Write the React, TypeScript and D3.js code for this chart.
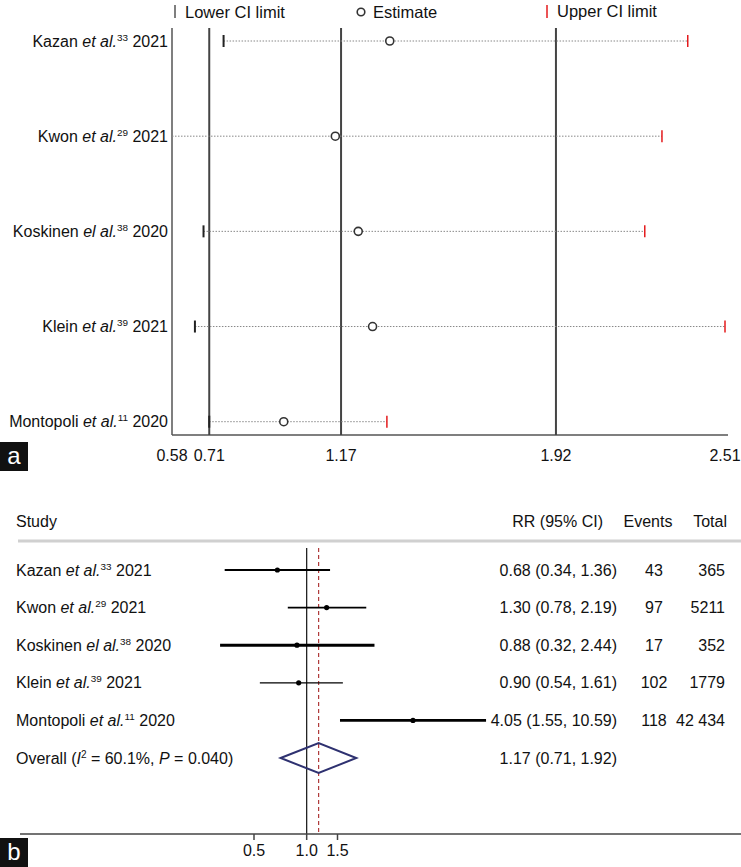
import React from "react";
import * as d3 from "d3";

// ---------- Data ----------
const studyNames = ["Kazan", "Kwon", "Koskinen", "Klein", "Montopoli"];
const etAl = ["et al.", "et al.", "el al.", "et al.", "et al."];
const refNums = ["33", "29", "38", "39", "11"];
const years = ["2021", "2021", "2020", "2021", "2020"];

// Panel a: leave-one-out sensitivity
const looEstimate = [1.34, 1.15, 1.23, 1.28, 0.97];
const looLower = [0.76, 0.58, 0.69, 0.66, 0.71];
const looUpper = [2.38, 2.29, 2.23, 2.51, 1.33];
const aTicks = [0.58, 0.71, 1.17, 1.92, 2.51];
const aGrid = [0.71, 1.17, 1.92];

// Panel b: forest plot
const rr = [0.68, 1.3, 0.88, 0.9, 4.05];
const rrLow = [0.34, 0.78, 0.32, 0.54, 1.55];
const rrHigh = [1.36, 2.19, 2.44, 1.61, 10.59];
const rrText = ["0.68 (0.34, 1.36)", "1.30 (0.78, 2.19)", "0.88 (0.32, 2.44)", "0.90 (0.54, 1.61)", "4.05 (1.55, 10.59)"];
const events = ["43", "97", "17", "102", "118"];
const totals = ["365", "5211", "352", "1779", "42 434"];
const weights = [2.2, 1.6, 3, 1.2, 2.8];
const overall = { est: 1.17, lo: 0.71, hi: 1.92, text: "1.17 (0.71, 1.92)" };
const bTicks = [0.5, 1.0, 1.5];
const bTickLabels = ["0.5", "1.0", "1.5"];

const FONT = "'Liberation Sans', Arial, Helvetica, sans-serif";

function StudyLabel({ i, x, y, anchor, size }: { i: number; x: number; y: number; anchor: "start" | "end"; size: number }) {
  return (
    <text x={x} y={y} dy="0.35em" textAnchor={anchor} fontFamily={FONT} fontSize={size} fill="#111">
      <tspan>{studyNames[i] + " "}</tspan>
      <tspan fontStyle="italic">{etAl[i]}</tspan>
      <tspan fontSize={size * 0.62} dy={-6}>{refNums[i]}</tspan>
      <tspan dy={6}>{" " + years[i]}</tspan>
    </text>
  );
}

export default function App() {
  // Panel a scales
  const xA = d3.scaleLinear().domain([0.58, 2.51]).range([172, 725]);
  const yA = d3.scalePoint<number>().domain(d3.range(5)).range([41, 421.7]);
  const aTop = 28;
  const aBottom = 435;

  // Panel b scales
  const xB = d3.scaleLog().domain([0.5, 1.5]).range([254, 337.5]);
  const yB = d3.scalePoint<number>().domain(d3.range(6)).range([570, 758]);
  const bTop = 548;
  const bAxis = 834;

  const diamond = [
    [xB(overall.lo), yB(5)],
    [xB(overall.est), yB(5) - 15],
    [xB(overall.hi), yB(5)],
    [xB(overall.est), yB(5) + 15],
  ];

  return (
    <svg width={741} height={867} style={{ position: "absolute", left: 0, top: 0, background: "#fff" }}>
      <rect x={0} y={0} width={741} height={867} fill="#fff" />
      {/* ---------- Panel a ---------- */}
      {/* legend */}
      <line x1={175} x2={175} y1={5} y2={18} stroke="#555" strokeWidth={1.5} />
      <text x={185} y={12} dy="0.35em" fontFamily={FONT} fontSize={16.5} fill="#111">Lower CI limit</text>
      <circle cx={361} cy={12} r={3.8} fill="#fff" stroke="#333" strokeWidth={1.6} />
      <text x={373} y={12} dy="0.35em" fontFamily={FONT} fontSize={16.5} fill="#111">Estimate</text>
      <line x1={547} x2={547} y1={5} y2={18} stroke="#e41a1c" strokeWidth={1.5} />
      <text x={557} y={11} dy="0.35em" fontFamily={FONT} fontSize={16.5} fill="#111">Upper CI limit</text>

      {/* axes */}
      <line x1={xA(0.58)} x2={xA(0.58)} y1={aTop} y2={aBottom} stroke="#555" strokeWidth={1.5} />
      <line x1={xA(0.58)} x2={728} y1={aBottom} y2={aBottom} stroke="#555" strokeWidth={1.5} />
      {aGrid.map((g) => (
        <line key={g} x1={xA(g)} x2={xA(g)} y1={aTop} y2={aBottom} stroke="#444" strokeWidth={2} />
      ))}
      {aTicks.map((t) => (
        <text key={t} x={xA(t)} y={455} dy="0.35em" textAnchor="middle" fontFamily={FONT} fontSize={16} fill="#111">
          {t.toFixed(2)}
        </text>
      ))}

      {/* rows */}
      {studyNames.map((_, i) => (
        <g key={i}>
          <StudyLabel i={i} x={168} y={yA(i)!} anchor="end" size={16} />
          <line x1={xA(looLower[i])} x2={xA(looUpper[i])} y1={yA(i)!} y2={yA(i)!} stroke="#888" strokeWidth={1} strokeDasharray="1.5,1.5" />
          {looLower[i] > 0.58 && (
            <line x1={xA(looLower[i])} x2={xA(looLower[i])} y1={yA(i)! - 6} y2={yA(i)! + 6} stroke="#222" strokeWidth={2} />
          )}
          <line x1={xA(looUpper[i])} x2={xA(looUpper[i])} y1={yA(i)! - 6} y2={yA(i)! + 6} stroke="#e41a1c" strokeWidth={1.5} />
          <circle cx={xA(looEstimate[i])} cy={yA(i)!} r={4} fill="#fff" stroke="#333" strokeWidth={1.6} />
        </g>
      ))}

      {/* label a */}
      <rect x={0} y={442} width={28} height={29} fill="#111" />
      <text x={14} y={456} dy="0.35em" textAnchor="middle" fontFamily={FONT} fontSize={24} fill="#fff">a</text>

      {/* ---------- Panel b ---------- */}
      <text x={16} y={521} dy="0.35em" fontFamily={FONT} fontSize={16} fill="#111">Study</text>
      <text x={603} y={521} dy="0.35em" textAnchor="end" fontFamily={FONT} fontSize={16} fill="#111">RR (95% CI)</text>
      <text x={648} y={521} dy="0.35em" textAnchor="middle" fontFamily={FONT} fontSize={16} fill="#111">Events</text>
      <text x={727} y={521} dy="0.35em" textAnchor="end" fontFamily={FONT} fontSize={16} fill="#111">Total</text>
      <line x1={18} x2={741} y1={541} y2={541} stroke="#d0d0d0" strokeWidth={3} />

      {/* reference lines */}
      <line x1={xB(1)} x2={xB(1)} y1={bTop} y2={bAxis} stroke="#111" strokeWidth={1.2} />
      <line x1={xB(overall.est)} x2={xB(overall.est)} y1={bTop} y2={bAxis} stroke="#b03a3a" strokeWidth={1.2} strokeDasharray="4,3" />

      {studyNames.map((_, i) => (
        <g key={i}>
          <StudyLabel i={i} x={16} y={yB(i)!} anchor="start" size={16} />
          <line x1={xB(rrLow[i])} x2={xB(rrHigh[i])} y1={yB(i)!} y2={yB(i)!} stroke="#000" strokeWidth={weights[i]} />
          <circle cx={xB(rr[i])} cy={yB(i)!} r={2.6} fill="#000" />
          <text x={617} y={yB(i)!} dy="0.35em" textAnchor="end" fontFamily={FONT} fontSize={16} fill="#111">{rrText[i]}</text>
          <text x={654} y={yB(i)!} dy="0.35em" textAnchor="middle" fontFamily={FONT} fontSize={16} fill="#111">{events[i]}</text>
          <text x={725} y={yB(i)!} dy="0.35em" textAnchor="end" fontFamily={FONT} fontSize={16} fill="#111">{totals[i]}</text>
        </g>
      ))}

      {/* overall */}
      <text x={16} y={yB(5)!} dy="0.35em" fontFamily={FONT} fontSize={16} fill="#111">
        <tspan>{"Overall ("}</tspan>
        <tspan fontStyle="italic">I</tspan>
        <tspan fontSize={10} dy={-6}>2</tspan>
        <tspan dy={6}>{" = 60.1%, "}</tspan>
        <tspan fontStyle="italic">P</tspan>
        <tspan>{" = 0.040)"}</tspan>
      </text>
      <polygon points={diamond.map((p) => p.join(",")).join(" ")} fill="none" stroke="#2e3170" strokeWidth={2} />
      <text x={617} y={yB(5)!} dy="0.35em" textAnchor="end" fontFamily={FONT} fontSize={16} fill="#111">{overall.text}</text>

      {/* axis */}
      <line x1={20} x2={741} y1={bAxis} y2={bAxis} stroke="#444" strokeWidth={1.5} />
      {bTicks.map((t, k) => (
        <g key={t}>
          <line x1={xB(t)} x2={xB(t)} y1={bAxis} y2={bAxis + 6} stroke="#444" strokeWidth={1.5} />
          <text x={xB(t)} y={850} dy="0.35em" textAnchor="middle" fontFamily={FONT} fontSize={16} fill="#111">{bTickLabels[k]}</text>
        </g>
      ))}

      {/* label b */}
      <rect x={0} y={838} width={28} height={29} fill="#111" />
      <text x={14} y={852} dy="0.35em" textAnchor="middle" fontFamily={FONT} fontSize={24} fill="#fff">b</text>
    </svg>
  );
}
